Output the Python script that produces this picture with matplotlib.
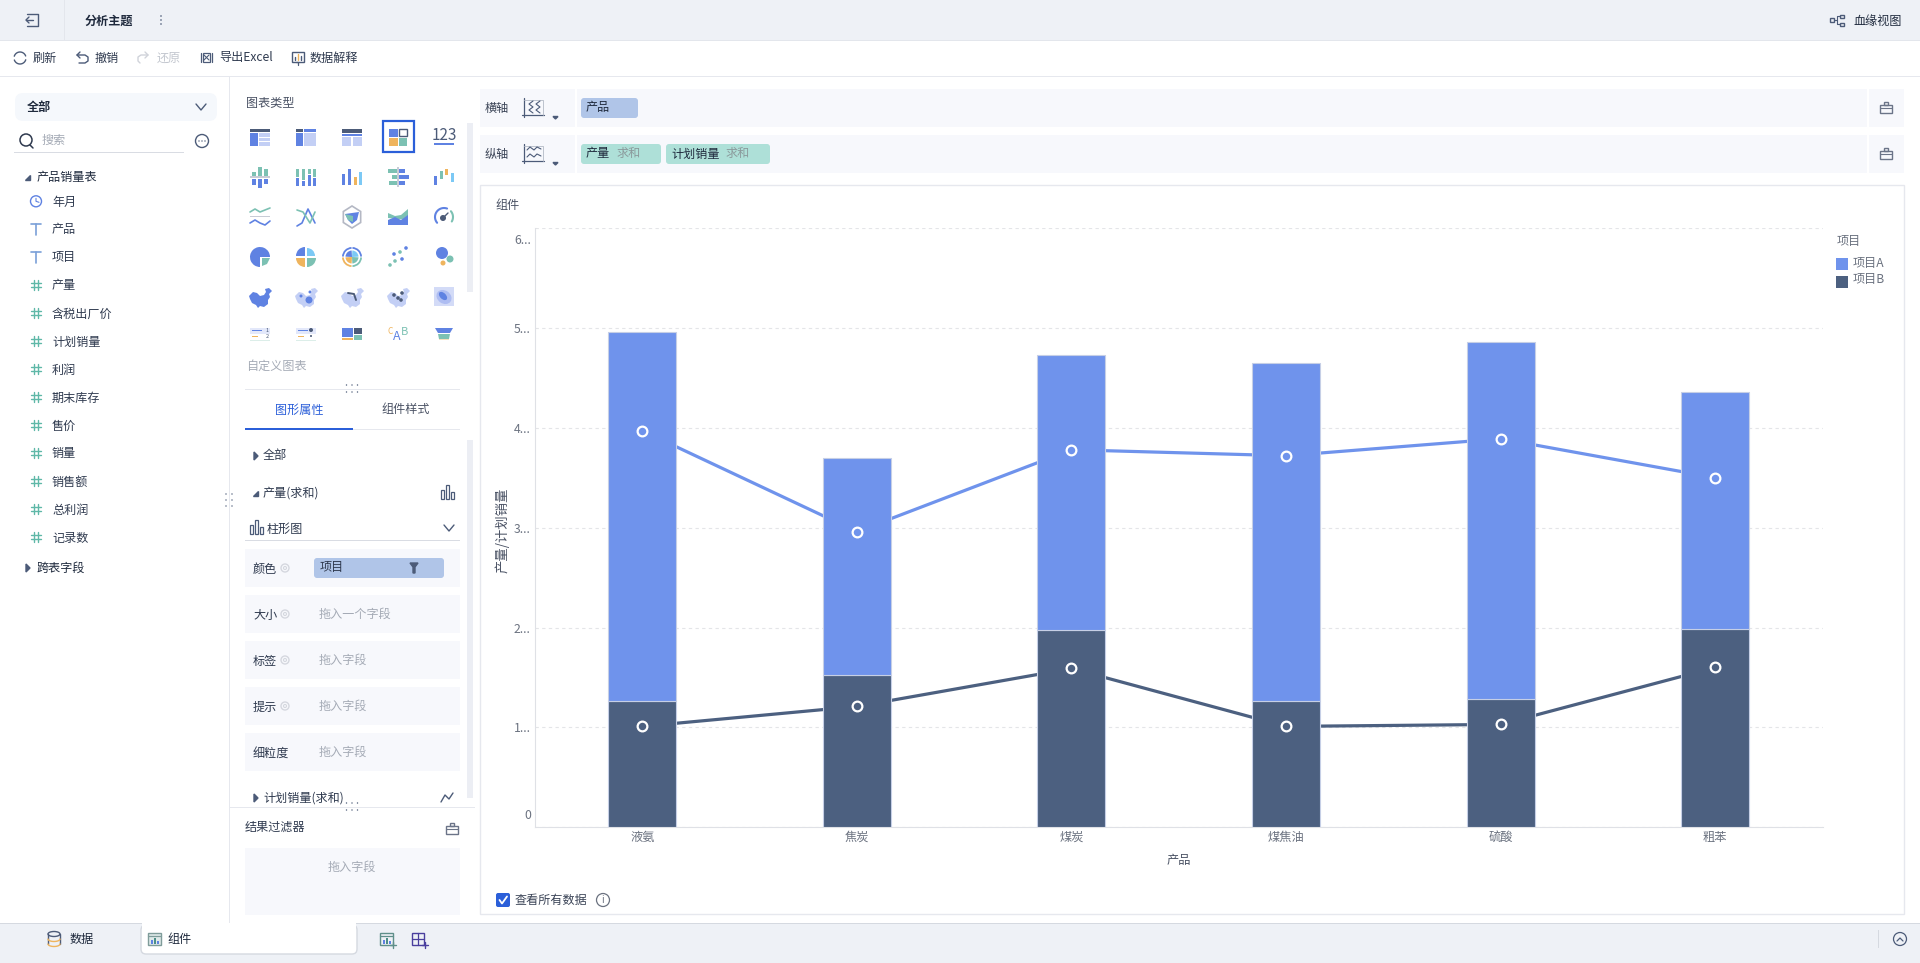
import matplotlib
matplotlib.use("Agg")
import matplotlib.pyplot as plt
import numpy as np
from matplotlib.patches import Rectangle, FancyBboxPatch, Circle, Polygon, Wedge, Ellipse
from matplotlib.transforms import ScaledTranslation

plt.rcParams['font.family'] = ['Noto Sans CJK SC', 'DejaVu Sans']

# chart data
products = ["液氨", "焦炭", "煤炭", "煤焦油", "硫酸", "粗苯"]
output_a = [3.70, 2.18, 2.75, 3.39, 3.58, 2.37]
output_b = [1.26, 1.52, 1.98, 1.26, 1.28, 1.99]
plan_a = [3.97, 2.96, 3.78, 3.72, 3.89, 3.50]
plan_b = [1.01, 1.21, 1.59, 1.01, 1.03, 1.60]
y_ticks = [0, 1, 2, 3, 4, 5, 6]
y_labels = ["0", "1...", "2...", "3...", "4...", "5...", "6..."]

# interface text
toolbar_items = ["刷新", "撤销", "还原", "导出Excel", "数据解释"]
field_names = ["年月", "产品", "项目", "产量", "含税出厂价", "计划销量", "利润", "期末库存",
               "售价", "销量", "销售额", "总利润", "记录数"]
slot_names = ["颜色", "大小", "标签", "提示", "细粒度"]
slot_hints = ["", "拖入一个字段", "拖入字段", "拖入字段", "拖入字段"]

BLUE = "#6f93ec"
NAVY = "#4c6080"
ACCENT = "#2b5fd9"
PILL = "#b0c5e8"
MINT = "#aee0d8"
SHELF = "#f7f8fc"
BAR_BG = "#eef1f6"
LINE = "#e6e8ee"
TXT = "#2f3a4f"
GREY = "#a5abb6"
I_BLUE = "#5f82e2"
I_DARK = "#4c5b78"
I_LIGHT = "#c3cff5"
I_GREEN = "#7cc1b3"
I_ORANGE = "#efb45d"
I_SKY = "#7cc9f5"

fig = plt.figure(figsize=(19.2, 9.63), dpi=100, facecolor="white")

ui = fig.add_axes([0, 0, 1, 1])
ui.set_xlim(0, 1920)
ui.set_ylim(963, 0)
ui.axis("off")


def rect(x, y, w, h, c, z=1, **kw):
    ui.add_patch(Rectangle((x, y), w, h, facecolor=c, edgecolor="none", zorder=z, **kw))


def rrect(x, y, w, h, c, rad=3, z=1, ec="none"):
    ui.add_patch(FancyBboxPatch((x + rad, y + rad), w - 2 * rad, h - 2 * rad,
                                boxstyle="round,pad=%s,rounding_size=%s" % (rad, rad),
                                facecolor=c, edgecolor=ec, linewidth=1, zorder=z))


def label(x, y, s, c=TXT, size=8.7, ha="left", weight="normal", **kw):
    ui.text(x, y + 1, s, color=c, fontsize=size, ha=ha, va="center", fontweight=weight, zorder=5, **kw)


def pline(xs, ys, c, lw=1.0, z=3, **kw):
    ui.plot(xs, ys, color=c, lw=lw, zorder=z, solid_capstyle="round", **kw)


def chevron(x, y, c=I_DARK):
    pline([x - 5, x, x + 5], [y - 3, y + 3, y - 3], c, 1.0)


def tri_right(x, y):
    ui.add_patch(Polygon([(x - 2, y - 4), (x + 2, y), (x - 2, y + 4)], color=I_DARK, zorder=4))


def tri_down(x, y):
    ui.add_patch(Polygon([(x - 3, y + 3), (x + 2, y + 3), (x + 2, y - 2)], color=I_DARK, zorder=4))


def circle(x, y, r, fc="none", ec=I_DARK, lw=1.0, z=3):
    ui.add_patch(Circle((x, y), r, facecolor=fc, edgecolor=ec, linewidth=lw, zorder=z))


def toolbox(x, y):
    ui.add_patch(Rectangle((x - 6, y - 3), 12, 8, fc="none", ec="#6b7488", lw=1, zorder=3))
    ui.add_patch(Rectangle((x - 2, y - 6), 4, 3, fc="none", ec="#6b7488", lw=1, zorder=3))
    pline([x - 6, x + 6], [y, y], "#6b7488", 0.8)


def bar_icon(x, y, c=I_DARK):
    for dx, h in [(-6, 9), (-1, 14), (4, 7)]:
        ui.add_patch(Rectangle((x + dx, y + 6 - h), 3, h, fc="none", ec=c, lw=0.9, zorder=3))


def gear(x, y):
    circle(x, y, 4, ec="#d5d8df", lw=1)
    circle(x, y, 1.5, ec="#d5d8df", lw=0.8)


def dots_h(x, y):
    for dy in (-3.5, 3.5):
        for dx in (-5.5, 0, 5.5):
            circle(x + dx, y + dy, 0.7, fc=I_DARK, ec="none")


# frame bars
rect(0, 0, 1920, 40, BAR_BG)
rect(0, 40, 1920, 1, "#e3e6ec")
rect(64, 0, 1, 40, "#e3e6ec")
rect(0, 76, 1920, 1.5, LINE)
rect(0, 923, 1920, 40, BAR_BG)
rect(0, 923, 1920, 1, "#d5d9e0")

# top bar
pline([27, 38, 38, 27], [14, 14, 26, 26], I_DARK, 1)
pline([26, 33], [20, 20], I_DARK, 1)
pline([29, 26, 29], [17, 20, 23], I_DARK, 1)
label(85, 20, "分析主题", c="#1f2a3d", weight="bold")
for dy in (-4, 0, 4):
    circle(161, 20 + dy, 0.8, fc=I_DARK, ec="none")
ui.add_patch(Rectangle((1830, 18), 4, 4, fc="none", ec=I_DARK, lw=1, zorder=3))
ui.add_patch(Rectangle((1840, 15), 4, 3, fc="none", ec=I_DARK, lw=1, zorder=3))
ui.add_patch(Rectangle((1840, 23), 4, 3, fc="none", ec=I_DARK, lw=1, zorder=3))
pline([1834, 1837, 1837, 1840], [20, 20, 16, 16], I_DARK, 0.8)
pline([1837, 1837, 1840], [20, 24, 24], I_DARK, 0.8)
label(1853, 20, "血缘视图", c="#1f2a3d")

# toolbar
tool_x = [33, 95, 157, 219, 310]
for s, x in zip(toolbar_items, tool_x):
    label(x, 57, s, c="#c3c7cf" if s == "还原" else TXT)
t = np.linspace(0.3, 2.8, 20)
pline(20 + 6 * np.cos(t), 58 + 6 * np.sin(t), I_DARK, 1.0)
pline(20 - 6 * np.cos(t), 58 - 6 * np.sin(t), I_DARK, 1.0)
pline([80, 77, 80], [52, 55, 58], I_DARK, 1.0)
pline([77, 85, 88, 88, 85, 79], [55, 55, 57, 61, 63, 63], I_DARK, 1.0)
pline([145, 148, 145], [52, 55, 58], "#d0d3da", 1.0)
pline([148, 141, 138, 138, 140], [55, 55, 57, 61, 63], "#d0d3da", 1.0)
ui.add_patch(Rectangle((203, 53), 7, 9, fc="none", ec=I_DARK, lw=0.9, zorder=3))
pline([201, 201], [53, 62], I_DARK, 0.9)
pline([212, 212], [53, 62], I_DARK, 0.9)
pline([204, 209], [55, 60], I_DARK, 0.8)
pline([209, 204], [55, 60], I_DARK, 0.8)
ui.add_patch(Rectangle((292, 52), 12, 10, fc="none", ec=I_DARK, lw=1, zorder=3))
pline([298, 298], [54, 60], I_ORANGE, 1.0)
pline([295, 295], [57, 60], I_DARK, 1.0)
pline([301, 301], [56, 60], I_DARK, 1.0)
pline([296, 298, 298], [62, 62, 65], I_DARK, 0.9)

# left field list
rect(229, 77, 1, 846, LINE)
rrect(15, 93, 202, 28, "#f5f8fc", rad=8)
label(27, 106, "全部", c="#1f2a3d", weight="bold")
chevron(201, 107)
circle(26, 140, 6, ec=TXT, lw=1.1)
pline([30, 33], [145, 148], TXT, 1.1)
label(41, 139, "搜索", c=GREY)
rect(14, 152, 170, 1, "#d9dce3")
circle(202, 141, 6.5, ec=I_DARK, lw=1)
for dx in (-3, 0, 3):
    circle(202 + dx, 141, 0.7, fc=I_DARK, ec="none")
tri_down(28, 177)
label(37, 176, "产品销量表", c="#1f2a3d")
for i, s in enumerate(field_names):
    y = 201.3 + 28 * i
    label(52, y - 0.3, s)
    if s == "年月":
        circle(36, y, 5.5, ec=I_BLUE, lw=1)
        pline([36, 36, 39], [y - 3, y, y + 1], I_BLUE, 0.8)
    elif s in ("产品", "项目"):
        pline([31, 41], [y - 5, y - 5], "#7aa0d8", 1.2)
        pline([36, 36], [y - 5, y + 6], "#7aa0d8", 1.2)
    else:
        for dx in (-2, 2):
            pline([36 + dx, 36 + dx], [y - 5, y + 5], "#5fb8a8", 1.0)
        for dy in (-2, 2):
            pline([31, 41], [y + dy, y + dy], "#5fb8a8", 1.0)
tri_right(28, 568)
label(37, 567, "跨表字段", c="#1f2a3d")
for dx in (-3, 3):
    for dy in (-6, 0, 6):
        circle(229 + dx, 500 + dy, 0.7, fc=I_DARK, ec="none")

# chart type gallery
label(246, 102, "图表类型", c="#4a5264")
rect(467, 123, 6, 169, "#eceef4")
col_x = [260, 306, 352, 398, 444]
row_y = [137, 177, 217, 257, 297, 334]


def ic_table(x, y):
    rect(x - 10, y - 8, 20, 3.5, I_DARK)
    rect(x - 10, y - 4, 8, 13, I_BLUE)
    for d in (-3.5, 1, 5.5):
        rect(x - 1, y + d, 11, 3.2, I_LIGHT)


def ic_cross(x, y):
    rect(x - 10, y - 8, 7, 3.5, I_DARK)
    rect(x - 2, y - 8, 12, 3.5, I_BLUE)
    rect(x - 10, y - 4, 7, 13, I_BLUE)
    rect(x - 2, y - 4, 12, 13, I_LIGHT)


def ic_head(x, y):
    rect(x - 10, y - 8, 20, 4, I_DARK)
    rect(x - 10, y - 3, 20, 2, I_BLUE)
    rect(x - 10, y, 9, 9, I_LIGHT)
    rect(x + 1, y, 9, 9, I_LIGHT)


def ic_selected(x, y):
    ui.add_patch(Rectangle((x - 15.5, y - 15.5), 31, 31, fc="none", ec=ACCENT, lw=1.6, zorder=4))
    rect(x - 9, y - 8, 8.5, 8, I_BLUE)
    ui.add_patch(Rectangle((x + 1, y - 8), 7.5, 7, fc="white", ec=I_DARK, lw=1, zorder=2))
    rect(x - 9, y + 1, 8.5, 8, I_ORANGE)
    rect(x + 0.5, y + 1, 8.5, 8, I_GREEN)


def ic_number(x, y):
    label(x, y - 3, "123", c=I_DARK, size=11, ha="center")
    rect(x - 10, y + 6, 20, 2.5, I_BLUE)


def ic_mirror(x, y):
    for dx, up, dn in [(-8, 4, 5), (-2, 9, 8), (4, 7, 4)]:
        rect(x + dx, y - 1 - up, 4, up, I_GREEN)
        rect(x + dx, y + 2, 4, dn + 1, I_BLUE)
    rect(x - 10, y - 1, 20, 2, "#c8ccd6")


def ic_stacked(x, y):
    for dx, h in [(-10, 8), (-4, 11), (2, 5), (7, 8)]:
        rect(x + dx, y - 8, 3, h, I_GREEN)
        rect(x + dx, y - 7 + h, 3, 16 - h, I_BLUE)


def ic_columns(x, y):
    for dx, h, c in [(-10, 11, I_BLUE), (-4, 16, I_BLUE), (2, 8, I_ORANGE), (7, 13, I_SKY)]:
        rect(x + dx, y + 8 - h, 3, h, c)


def ic_hmirror(x, y):
    for dy, a, b in [(-8, 9, 6), (-2, 5, 10), (4, 8, 6)]:
        rect(x - 1 - a, y + dy, a, 4, I_GREEN)
        rect(x + 1, y + dy, b, 4, I_BLUE)
    rect(x - 1, y - 10, 2, 20, "#c8ccd6")


def ic_water(x, y):
    for dx, t, b, c in [(-10, -1, 8, I_BLUE), (-4, -6, 2, I_GREEN), (1, -8, -2, I_ORANGE), (7, -4, 5, I_SKY)]:
        rect(x + dx, y + t, 3, b - t, c)


def ic_waves(x, y):
    xs = np.array([-10, -5, 0, 5, 10])
    pline(x + xs, y + np.array([-5, -8, -5, -7, -9]), I_GREEN, 1.2)
    rect(x - 10, y - 1, 20, 1.5, "#c8ccd6")
    pline(x + xs, y + np.array([6, 3, 6, 8, 4]), I_BLUE, 1.2)


def ic_xlines(x, y):
    pline(x + np.array([-9, -4, 2, 9]), y + np.array([9, 6, -8, 6]), I_BLUE, 1.2)
    pline(x + np.array([-9, -3, 4, 9]), y + np.array([-7, -5, 6, -5]), I_GREEN, 1.2)


def ic_radar(x, y):
    ang = np.pi / 6 + np.arange(6) * np.pi / 3
    ui.add_patch(Polygon(np.c_[x + 10 * np.cos(ang), y + 11 * np.sin(ang)], fc="none", ec="#b4b8c4", lw=1.2, zorder=2))
    ui.add_patch(Polygon([(x - 7, y - 3), (x + 7, y - 5), (x + 5, y + 3), (x, y + 7), (x - 4, y + 3)], fc=I_BLUE, ec="none", zorder=3))
    ui.add_patch(Polygon([(x - 7, y - 3), (x + 1, y - 1), (x + 1, y + 5), (x - 4, y + 3)], fc=I_GREEN, ec="none", zorder=4))


def ic_area(x, y):
    ui.add_patch(Polygon([(x - 10, y + 1), (x - 10, y - 4), (x - 3, y - 1), (x + 3, y - 2), (x + 10, y - 8), (x + 10, y + 3)],
                         fc=I_GREEN, ec="none", zorder=2))
    ui.add_patch(Polygon([(x - 10, y + 8), (x - 10, y + 3), (x - 3, y), (x + 3, y + 3), (x + 10, y - 2), (x + 10, y + 8)],
                         fc=I_BLUE, ec="none", zorder=3))


def ic_gauge(x, y):
    t = np.radians(np.linspace(140, 290, 20))
    pline(x + 9 * np.cos(t), y + 9 * np.sin(t), I_BLUE, 1.5)
    t = np.radians(np.linspace(320, 390, 10))
    pline(x + 9 * np.cos(t), y + 9 * np.sin(t), I_GREEN, 1.5)
    circle(x - 1, y + 1, 3, fc=I_DARK, ec="none")
    pline([x - 1, x + 4], [y + 1, y - 4], I_DARK, 1.0)


def ic_pie(x, y):
    ui.add_patch(Wedge((x, y), 10, 90, 360, fc=I_BLUE, ec="none", zorder=2))
    ui.add_patch(Polygon([(x + 2, y + 1), (x + 10, y + 1), (x + 7, y + 7), (x + 2, y + 9)], fc=I_GREEN, ec="none", zorder=3))


def ic_rose(x, y):
    ui.add_patch(Wedge((x - 1, y - 1), 9, 180, 270, fc=I_BLUE, ec="none", zorder=2))
    ui.add_patch(Wedge((x + 1, y - 1), 8, 270, 360, fc=I_SKY, ec="none", zorder=2))
    ui.add_patch(Wedge((x - 1, y + 1), 9, 90, 180, fc=I_ORANGE, ec="none", zorder=2))
    ui.add_patch(Wedge((x + 1, y + 1), 9, 0, 90, fc=I_GREEN, ec="none", zorder=2))


def ic_sun(x, y):
    for a, c in [(180, I_BLUE), (270, I_BLUE), (90, I_ORANGE), (0, I_GREEN)]:
        ui.add_patch(Wedge((x, y), 10, a + 3, a + 87, width=1.8, fc=c, ec="none", zorder=3))
    for a, c in [(180, I_BLUE), (270, I_SKY), (90, I_ORANGE), (0, I_GREEN)]:
        ui.add_patch(Wedge((x, y), 6.5, a + 3, a + 87, fc=c, ec="none", zorder=4))


def ic_scatter(x, y):
    for dx, dy, c in [(-4, -3, I_BLUE), (2, -5, I_GREEN), (8, -9, I_BLUE), (-8, 8, I_GREEN),
                      (-3, 4, I_GREEN), (4, 2, I_BLUE)]:
        circle(x + dx, y + dy, 1.8, fc=c, ec="none")


def ic_bubble(x, y):
    circle(x - 2, y - 4, 6, fc=I_BLUE, ec="none")
    circle(x + 6, y + 2, 3.5, fc=I_GREEN, ec="none")
    circle(x - 1, y + 6, 2.5, fc=I_ORANGE, ec="none")


china = np.array([(-11, -1), (-7, -5), (-3, -4), (0, -1), (4, -2), (6, -5), (5, -8), (9, -9),
                  (12, -6), (9, -3), (10, 0), (8, 3), (8, 7), (4, 10), (0, 9), (-2, 11), (-4, 8),
                  (-8, 6), (-10, 2)], float)


def ic_map(x, y, c=I_BLUE):
    ui.add_patch(Polygon(china + (x, y), fc=c, ec="none", zorder=2))


def ic_map_dots(x, y):
    ic_map(x, y, I_LIGHT)
    circle(x + 3, y + 3, 3.5, fc=I_BLUE, ec="none", z=4)
    circle(x - 5, y - 1, 1.5, fc=I_BLUE, ec="none", z=4)
    circle(x + 4, y - 5, 1.5, fc=I_BLUE, ec="none", z=4)


def ic_map_flow(x, y):
    ic_map(x, y, I_LIGHT)
    pline([x - 4, x + 2, x + 4], [y - 4, y - 3, y + 3], I_DARK, 1.4, z=4)


def ic_map_heat(x, y):
    ic_map(x, y, I_LIGHT)
    for dx, dy in [(-4, -2), (0, 1), (3, 3), (4, -4)]:
        circle(x + dx, y + dy, 1.8, fc=I_DARK, ec="none", z=4)


def ic_density(x, y):
    rect(x - 10, y - 10, 20, 19, "#d3dbf7")
    ui.add_patch(Ellipse((x, y), 16, 13, angle=35, fc="#aebdf2", ec="none", zorder=3))
    ui.add_patch(Ellipse((x - 1, y - 1), 10, 6, angle=45, fc=I_BLUE, ec="none", zorder=4))


def ic_rank(x, y, dots=False):
    rect(x - 10, y - 6, 20, 6, "#e3e8fa")
    rect(x - 8, y - 4, 10, 1.2, I_BLUE)
    rect(x - 8, y + 2, 6, 1.2, I_ORANGE)
    rect(x - 10, y + 6, 20, 1, "#dceee9")
    if dots:
        circle(x + 5, y - 4, 2, fc=I_DARK, ec="none", z=4)
        circle(x + 5, y + 2, 1, fc=I_DARK, ec="none", z=4)
    else:
        label(x + 7, y - 5, "1", size=4, c=I_DARK, ha="center")
        label(x + 7, y + 1, "2", size=4, c=I_DARK, ha="center")


def ic_tree(x, y):
    rect(x - 10, y - 6, 11, 9, I_BLUE)
    rect(x + 2, y - 6, 8, 6, I_DARK)
    rect(x - 10, y + 4, 11, 2.5, I_ORANGE)
    rect(x + 2, y + 1, 8, 5.5, I_GREEN)


def ic_word(x, y):
    label(x - 8, y - 3, "C", size=6, c=I_ORANGE, ha="center")
    label(x - 1, y + 1, "A", size=9, c=I_BLUE, ha="center")
    label(x + 6, y - 3, "B", size=8, c=I_GREEN, ha="center")


def ic_funnel(x, y):
    ui.add_patch(Polygon([(x - 9, y - 6), (x + 9, y - 6), (x + 6, y - 1), (x - 6, y - 1)], fc=I_BLUE, ec="none", zorder=2))
    ui.add_patch(Polygon([(x - 6, y), (x + 6, y), (x + 5, y + 5), (x - 5, y + 5)], fc=I_GREEN, ec="none", zorder=2))
    rect(x - 5, y + 5.5, 10, 1, "#f5dfbd")


gallery = [
    [ic_table, ic_cross, ic_head, ic_selected, ic_number],
    [ic_mirror, ic_stacked, ic_columns, ic_hmirror, ic_water],
    [ic_waves, ic_xlines, ic_radar, ic_area, ic_gauge],
    [ic_pie, ic_rose, ic_sun, ic_scatter, ic_bubble],
    [ic_map, ic_map_dots, ic_map_flow, ic_map_heat, ic_density],
    [ic_rank, lambda x, y: ic_rank(x, y, True), ic_tree, ic_word, ic_funnel],
]
for cy, row in zip(row_y, gallery):
    for cx, draw in zip(col_x, row):
        draw(cx, cy)

label(246, 365, "自定义图表", c=GREY)
rect(245, 389, 215, 1, LINE)
dots_h(352, 388.5)

# tabs
label(299, 409, "图形属性", c=ACCENT, ha="center")
label(406, 409, "组件样式", ha="center", c="#4a5264")
rect(245, 429, 215, 1, LINE)
rect(245, 428, 108, 2, ACCENT)
rect(467, 440, 6, 358, "#eceef4")
tri_right(256, 456)
label(263, 455, "全部")
tri_down(256, 493)
label(263, 492, "产量(求和)")
bar_icon(447, 493)
bar_icon(256, 528)
label(267, 528, "柱形图")
chevron(449, 528)
rect(245, 540, 215, 1, "#d9dce3")

# field slots
for i, (s, h) in enumerate(zip(slot_names, slot_hints)):
    top = 549 + 46 * i
    rect(245, top, 215, 38, SHELF)
    label(253, top + 19, s)
    if s != "细粒度":
        gear(285, top + 19)
    label(319, top + 18, h, c=GREY)
rrect(314, 558, 130, 20, PILL, rad=3, z=2)
label(320, 566.5, "项目")
ui.add_patch(Polygon([(410, 563), (418, 563), (415, 567), (415, 573), (413, 573), (413, 567)], color=I_DARK, zorder=4))
tri_right(256, 798)
label(263, 797, "计划销量(求和)")
pline([441, 445, 449, 453], [802, 795, 799, 793], I_DARK, 1.0)
rect(229, 807, 246, 1, LINE)
dots_h(352, 806.5)
label(245, 826, "结果过滤器")
toolbox(452, 829)
rect(245, 848, 215, 67, SHELF)
label(352, 866, "拖入字段", c=GREY, ha="center")

# axis shelves
for top, name in [(89, "横轴"), (135, "纵轴")]:
    h = 38
    rect(480, top, 1424, h, SHELF)
    rect(575, top, 1.5, h, "white", z=2)
    rect(1867, top, 1.5, h, "white", z=2)
    cy = top + h / 2
    label(485, cy - 0.5, name, c="#3a4356")
    pline([524, 524], [cy - 10, cy + 9], I_DARK, 0.9)
    pline([522, 544], [cy + 7, cy + 7], I_DARK, 0.9)
    pline([524, 543, 543], [cy - 8, cy - 8, cy + 7], "#b4bac6", 0.6)
    if name == "横轴":
        xs = np.array([3, -1, 3, -1, 3])
        pline(530 + xs, cy + np.array([-7, -4, -1, 2, 5]), I_DARK, 0.8)
        pline(537 + xs, cy + np.array([-7, -4, -1, 2, 5]), I_DARK, 0.8)
    else:
        xs = np.array([527, 530, 534, 537, 541])
        ys = np.array([-4, -7, -4, -7, -5])
        pline(xs, cy + ys, I_DARK, 0.8)
        pline(xs, cy + ys + 7, I_DARK, 0.8)
    ui.add_patch(Polygon([(553, cy + 8.5), (558, cy + 8.5), (555.5, cy + 11)], color=I_DARK, zorder=4))
    toolbox(1886, cy)
rrect(581, 98, 57, 20, PILL, rad=3, z=2)
label(586, 107, "产品", c="#1f2a3d")
rrect(581, 144, 80, 20, MINT, rad=3, z=2)
label(586, 153, "产量", c="#1f2a3d")
label(617, 153, "求和", c="#8b9a9c")
rrect(666, 144, 104, 20, MINT, rad=3, z=2)
label(671, 153, "计划销量", c="#1f2a3d")
label(726, 153, "求和", c="#8b9a9c")

# chart card
ui.add_patch(Rectangle((479.5, 185.5), 1424, 729, fc="white", ec=LINE, lw=1, zorder=1))
label(495, 204, "组件", c="#4a5264")
rect(1836, 258, 12, 12, BLUE)
rect(1836, 276, 12, 12, NAVY)
label(1837, 241, "项目", c="#6b7280")
label(1853, 262, "项目A", c="#6b7280")
label(1853, 279, "项目B", c="#6b7280")
rrect(496, 893, 14, 14, ACCENT, rad=2, z=2)
pline([499.5, 502, 507], [900, 903.5, 896.5], "white", 1.3, z=4)
label(515, 899, "查看所有数据", c="#3a4356")
circle(603, 900, 6.5, ec="#6b7280", lw=0.9)
label(603, 899, "i", c="#6b7280", size=7, ha="center")

# bottom bar
rrect(141, 925, 216, 29, "white", rad=5, z=1.5, ec="#d5d9e0")
rect(142, 923, 214, 12, "white", z=1.6)
rect(0, 923, 141, 1, "#d5d9e0", z=2)
rect(357, 923, 1563, 1, "#d5d9e0", z=2)
ui.add_patch(Ellipse((54, 934), 12, 5, fc="none", ec=I_DARK, lw=1, zorder=3))
pline([48, 48], [934, 944], I_DARK, 1)
pline([60, 60], [934, 944], I_DARK, 1)
t = np.linspace(0, np.pi, 20)
pline(54 + 6 * np.cos(t), 939 + 2.5 * np.sin(t), I_ORANGE, 1)
pline(54 + 6 * np.cos(t), 944 + 2.5 * np.sin(t), I_ORANGE, 1)
label(70, 938.5, "数据", c="#1f2a3d", weight="medium")
rect(148, 933, 13, 13, "#dfeae9", z=2)
for x0, c in [(148, "#7f9c9a"), (380, "#5f8f8a")]:
    ui.add_patch(Rectangle((x0, 933), 13, 12, fc="none", ec=c, lw=1, zorder=3))
    pline([x0, x0 + 13], [936, 936], c, 0.9)
    rect(x0 + 3, 940, 1.5, 4, I_BLUE, z=3)
    rect(x0 + 6, 938, 1.5, 6, "#4c8f88", z=3)
    rect(x0 + 9, 941, 1.5, 3, I_BLUE, z=3)
pline([390, 396], [945, 945], "#5f8f8a", 1)
pline([393, 393], [942, 948], "#5f8f8a", 1)
label(167, 938.5, "组件", c="#1f2a3d", weight="medium")
ui.add_patch(Rectangle((412, 933), 12, 12, fc="none", ec="#4a3f9e", lw=1, zorder=3))
pline([412, 424], [939, 939], "#4a3f9e", 0.9)
pline([418, 418], [933, 945], "#4a3f9e", 0.9)
pline([422, 428], [945, 945], "#4a3f9e", 1)
pline([425, 425], [942, 948], "#4a3f9e", 1)
rect(1878, 930, 1, 18, "#d5d9e0")
circle(1900, 939, 6.5, ec=I_DARK, lw=0.9)
pline([1897, 1900, 1903], [941, 938, 941], I_DARK, 0.9)

# the chart itself
ax = fig.add_axes([535 / 1920, 1 - 827.3 / 963, (1822.5 - 535) / 1920, (827.3 - 228) / 963])
ax.patch.set_alpha(0)
x = np.arange(len(products))
ax.bar(x, output_b, width=0.317, color=NAVY, edgecolor="#c6cfe6", linewidth=0.8, zorder=3)
ax.bar(x, output_a, width=0.317, bottom=output_b, color=BLUE, edgecolor="#c6cfe6", linewidth=0.8, zorder=3)
ax.plot(x, plan_a, color=BLUE, lw=2.3, zorder=2)
ax.plot(x, plan_b, color=NAVY, lw=2.3, zorder=2)
ax.plot(x, plan_a, ls="none", marker="o", ms=7, mfc=BLUE, mec="white", mew=1.6, zorder=4)
ax.plot(x, plan_b, ls="none", marker="o", ms=7, mfc=NAVY, mec="white", mew=1.6, zorder=4)

ax.set_xlim(-0.5, 5.5)
ax.set_ylim(0, 6)
ax.set_xticks(x)
ax.set_xticklabels(products, fontsize=8.8, color="#6b7280", va="center")
ax.set_yticks(y_ticks)
ax.set_yticklabels(y_labels, fontsize=8.8, color="#6b7280")
ax.tick_params(length=0, axis="y", pad=3)
ax.tick_params(length=0, axis="x", pad=7.5)
ax.grid(axis="y", color="#e4e5e8", linestyle=(0, (3, 3)), linewidth=0.8, zorder=0)
ax.set_axisbelow(True)
for side in ("top", "right"):
    ax.spines[side].set_visible(False)
for side in ("left", "bottom"):
    ax.spines[side].set_color("#dfe1e6")
ax.set_xlabel("产品", fontsize=8.8, color="#4a5264", labelpad=7)
ax.set_ylabel("产量/计划销量", fontsize=9.6, color="#4a5264", labelpad=3)
ax.yaxis.label.set_y(0.495)

# end labels sit inside the axis range
labels = ax.get_yticklabels()
labels[0].set_transform(labels[0].get_transform() + ScaledTranslation(0, 13 / 100, fig.dpi_scale_trans))
labels[-1].set_transform(labels[-1].get_transform() + ScaledTranslation(0, -11 / 100, fig.dpi_scale_trans))

fig.savefig("out.png", dpi=100)
